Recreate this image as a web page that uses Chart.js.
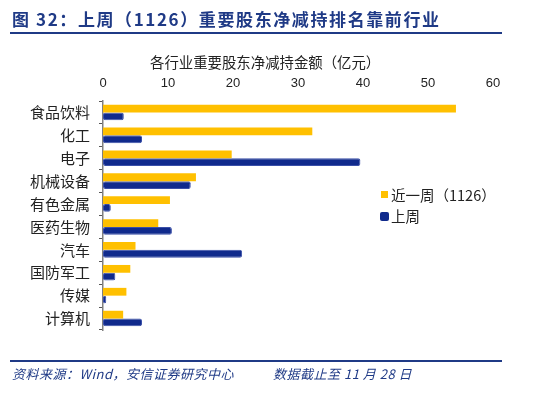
<!DOCTYPE html>
<html><head><meta charset="utf-8">
<script src="https://cdn.jsdelivr.net/npm/chart.js@4"></script>
<style>
html,body{margin:0;padding:0;background:#fff;}
body{width:550px;height:397px;position:relative;overflow:hidden;font-family:"Noto Sans CJK SC","Liberation Sans",sans-serif;}
#c{position:absolute;left:0;top:0;}
.t{position:absolute;white-space:nowrap;}
#title{left:12px;top:7px;font-size:17px;font-weight:bold;color:#1F3A86;letter-spacing:1.6px;line-height:24px;}
#hr1{position:absolute;left:10px;top:32px;width:492px;height:2px;background:#1F3A86;}
#axt{left:150px;top:52px;font-size:14.4px;color:#222;line-height:20px;}
#hr2{position:absolute;left:10px;top:360px;width:492px;height:2px;background:#1F3A86;}
.foot{top:365px;font-size:13px;font-style:italic;color:#1F3A86;line-height:18px;letter-spacing:0.5px;}
.lg{position:absolute;font-size:14.5px;color:#222;line-height:20px;white-space:nowrap;}
.sw{position:absolute;}
</style></head>
<body>
<canvas id="c" width="550" height="397"></canvas>
<div class="t" id="title">图 32：上周（1126）重要股东净减持排名靠前行业</div>
<div id="hr1"></div>
<div class="t" id="axt">各行业重要股东净减持金额（亿元）</div>
<div class="sw" style="left:381px;top:191px;width:7px;height:7px;background:#FFC000;"></div>
<div class="lg" style="left:391px;top:185px;">近一周（1126）</div>
<div class="sw" style="left:380px;top:212px;width:9px;height:9px;background:#102A8C;border-radius:2px;"></div>
<div class="lg" style="left:391px;top:206px;">上周</div>
<div id="hr2"></div>
<div class="t foot" style="left:12px;">资料来源：Wind，安信证券研究中心</div>
<div class="t foot" style="left:273px;">数据截止至 11 月 28 日</div>
<script>
const categories = ["食品饮料","化工","电子","机械设备","有色金属","医药生物","汽车","国防军工","传媒","计算机"];
const seriesNames = ["近一周（1126）","上周"];
const recentWeek = [54.3, 32.2, 19.8, 14.3, 10.3, 8.5, 5.0, 4.2, 3.6, 3.1];
const lastWeek = [3.2, 6.0, 39.6, 13.5, 1.2, 10.6, 21.4, 1.9, 0.5, 6.0];
const xTicks = [0,10,20,30,40,50,60];

new Chart(document.getElementById('c'), {
  type: 'bar',
  data: {
    labels: categories,
    datasets: [
      {label: seriesNames[0], data: recentWeek, backgroundColor: '#FFC000', borderWidth: 0, barPercentage: 1, categoryPercentage: 0.68},
      {label: seriesNames[1], data: lastWeek, backgroundColor: '#102A8C', borderColor: '#3A4FA8', borderWidth: 1, borderRadius: 2, borderSkipped: false, barPercentage: 1, categoryPercentage: 0.68}
    ]
  },
  options: {
    indexAxis: 'y',
    responsive: false,
    animation: false,
    layout: {padding: {left: 0, right: 57, top: 0, bottom: 67}},
    plugins: {legend: {display: false}, tooltip: {enabled: false}},
    scales: {
      x: {
        position: 'top',
        min: 0, max: 60,
        afterBuildTicks: s => { s.ticks = xTicks.map(v => ({value: v})); },
        afterFit: s => { s.height = 101; },
        grid: {display: false, drawTicks: false},
        border: {display: false},
        ticks: {color: '#222', font: {family: 'Liberation Sans', size: 13}, padding: 10}
      },
      y: {
        afterFit: s => { s.width = 103; },
        grid: {display: true, drawOnChartArea: false, drawTicks: true, tickLength: 4, offset: true, color: '#555'},
        border: {display: true, color: '#808080', width: 1.5},
        ticks: {color: '#222', font: {family: 'Noto Sans CJK SC', size: 15}, padding: 9}
      }
    }
  }
});
</script>
</body></html>
